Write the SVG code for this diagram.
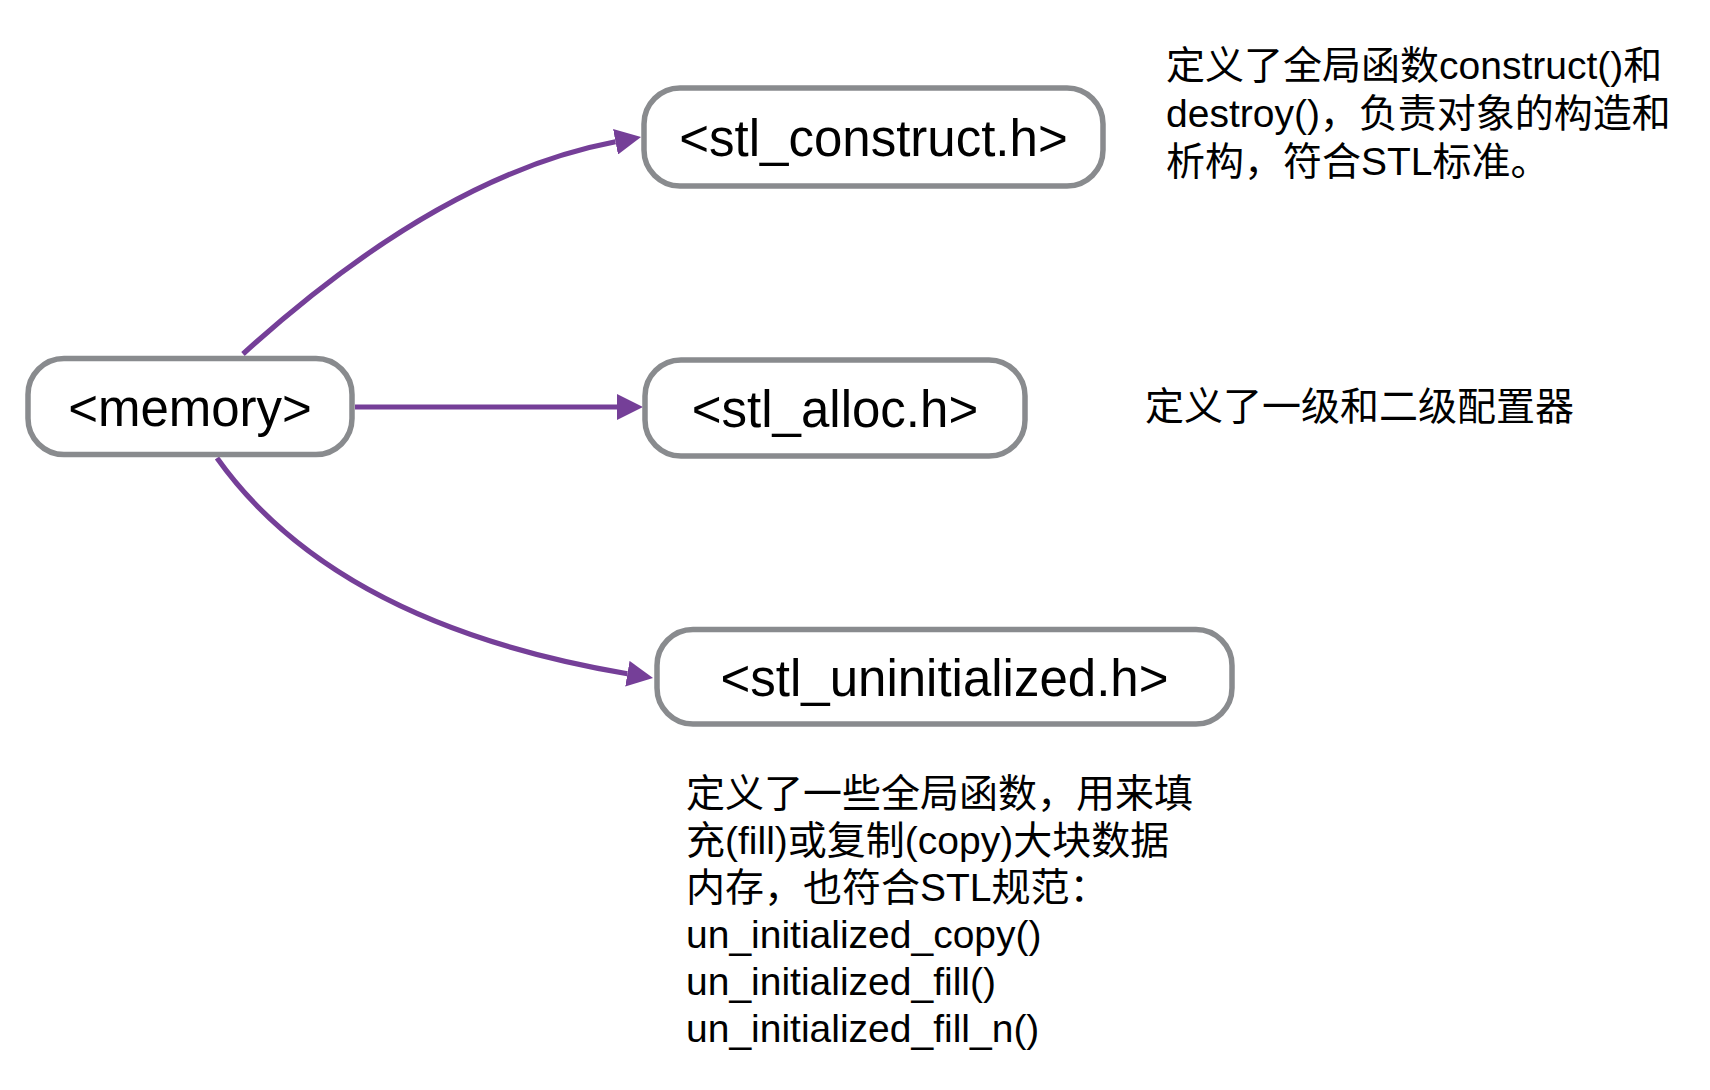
<svg xmlns="http://www.w3.org/2000/svg" width="1710" height="1090" viewBox="0 0 1710 1090">
  <style>
    .box { fill: #ffffff; stroke: #898b8e; stroke-width: 5.5; }
    .lbl { font-family: "Liberation Sans", "Noto Sans", sans-serif; font-size: 51px; fill: #000000; text-anchor: middle; }
    .note { font-family: "Liberation Sans", "Noto Sans CJK SC", sans-serif; font-size: 39px; fill: #000000; }
    .edge { fill: none; stroke: #753f98; stroke-width: 5.2; }
  </style>
  <defs>
    <marker id="arrow" viewBox="0 0 26 26" refX="0" refY="13" markerWidth="26" markerHeight="26" markerUnits="userSpaceOnUse" orient="auto">
      <path d="M0,0 L26,13 L0,26 z" fill="#753f98"/>
    </marker>
  </defs>
  <rect width="1710" height="1090" fill="#ffffff"/>

  <g id="connectors">
    <path class="edge" d="M243,354 Q440,175 615.5,141.8" marker-end="url(#arrow)"/>
    <path class="edge" d="M355,407 L617,407" marker-end="url(#arrow)"/>
    <path class="edge" d="M217,458 Q335,624 627.4,673.7" marker-end="url(#arrow)"/>
  </g>

  <g id="memory">
    <rect class="box" x="28" y="358.5" width="324" height="96" rx="36" ry="36"/>
    <text class="lbl" x="190" y="426">&lt;memory&gt;</text>
  </g>

  <g id="stl_construct">
    <rect class="box" x="644" y="88" width="459" height="98" rx="36" ry="36"/>
    <text class="lbl" x="873.5" y="156">&lt;stl_construct.h&gt;</text>
  </g>

  <g id="stl_alloc">
    <rect class="box" x="645" y="360" width="380" height="96" rx="36" ry="36"/>
    <text class="lbl" x="835" y="427">&lt;stl_alloc.h&gt;</text>
  </g>

  <g id="stl_uninitialized">
    <rect class="box" x="657" y="629.5" width="575" height="94.5" rx="36" ry="36"/>
    <text class="lbl" x="944.5" y="696">&lt;stl_uninitialized.h&gt;</text>
  </g>

  <g id="note_construct">
    <text class="note" x="1166" y="79">定义了全局函数construct()和</text>
    <text class="note" x="1166" y="127">destroy()，负责对象的构造和</text>
    <text class="note" x="1166" y="175">析构，符合STL标准。</text>
  </g>

  <g id="note_alloc">
    <text class="note" x="1145" y="420">定义了一级和二级配置器</text>
  </g>

  <g id="note_uninitialized">
    <text class="note" x="686" y="807">定义了一些全局函数，用来填</text>
    <text class="note" x="686" y="854">充(fill)或复制(copy)大块数据</text>
    <text class="note" x="686" y="901">内存，也符合STL规范：</text>
    <text class="note" x="686" y="948">un_initialized_copy()</text>
    <text class="note" x="686" y="995">un_initialized_fill()</text>
    <text class="note" x="686" y="1042">un_initialized_fill_n()</text>
  </g>
</svg>
